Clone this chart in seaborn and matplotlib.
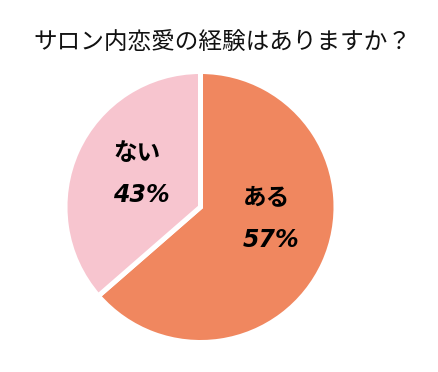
import matplotlib
matplotlib.use("Agg")
import matplotlib.pyplot as plt
import seaborn as sns

sns.set_theme(style="white")
plt.rcParams['font.family'] = ['Noto Sans CJK JP', 'DejaVu Sans']

title = "サロン内恋愛の経験はありますか？"
categories = ["ある", "ない"]
pct_labels = [57, 43]            # percentages printed on the chart
wedge_shares = [63.6, 36.4]      # wedge sizes as drawn in the picture
colors = ["#F0875F", "#F7C5CF"]
name_pos = [(0.488, 0.076), (-0.466, 0.401)]
pct_pos = [(0.518, -0.244), (-0.433, 0.089)]

fig = plt.figure(figsize=(4.39, 3.72), dpi=100)
fig.patch.set_facecolor("white")
ax = fig.add_axes([65/439, 29.5/372, 271/439, 271/372])
ax.pie(wedge_shares, colors=colors, startangle=90, counterclock=False,
       wedgeprops=dict(edgecolor="white", linewidth=3.6))
ax.set_aspect("equal")
ax.set_xlim(-1, 1)
ax.set_ylim(-1, 1)
ax.axis("off")

for cat, v, (nx, ny), (px, py) in zip(categories, pct_labels, name_pos, pct_pos):
    ax.text(nx, ny, cat, ha="center", va="center", fontsize=17,
            fontweight="bold", color="black")
    ax.text(px, py, f"{v}%", ha="center", va="center", fontsize=17,
            fontweight="bold", style="italic", family="DejaVu Sans", color="black")

fig.text(222/439, 1 - 42/372, title, ha="center", va="center", fontsize=17,
         color="#111111")

fig.savefig("out.png", dpi=100)
